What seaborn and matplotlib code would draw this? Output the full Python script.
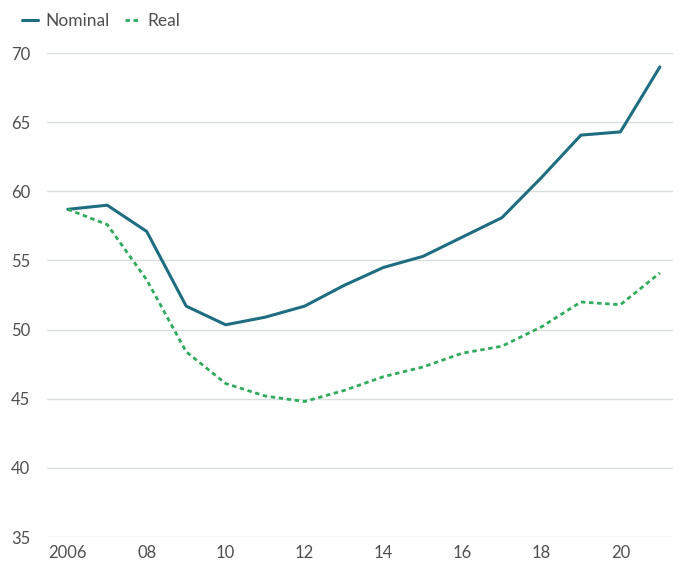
import pandas as pd
import numpy as np
import matplotlib.pyplot as plt
import seaborn as sns

years = list(range(2006, 2022))
nominal = [58.7, 59.0, 57.1, 51.7, 50.35, 50.9, 51.7, 53.2, 54.5, 55.3, 56.7, 58.1, 61.0, 64.07, 64.3, 69.0]
real = [58.7, 57.6, 53.6, 48.4, 46.1, 45.2, 44.8, 45.6, 46.6, 47.3, 48.3, 48.8, 50.2, 52.0, 51.8, 54.1]
xtick_years = [2006, 2008, 2010, 2012, 2014, 2016, 2018, 2020]
xtick_labels = ["2006", "08", "10", "12", "14", "16", "18", "20"]
ytick_vals = [35, 40, 45, 50, 55, 60, 65, 70]

df = pd.DataFrame({"year": years, "Nominal": nominal, "Real": real})

sns.set_style("white")
plt.rcParams['font.family'] = ['Lato', 'DejaVu Sans']

fig = plt.figure(figsize=(6.79, 5.71), dpi=100)
ax = fig.add_axes([0.069, 0.0595, 0.922, 0.8475])

sns.lineplot(data=df, x="year", y="Nominal", ax=ax, color="#1f6d80", lw=2.2, label="Nominal")
sns.lineplot(data=df, x="year", y="Real", ax=ax, color="#2fab5b", lw=2.0, label="Real",
             dashes=False)
ax.lines[1].set_dashes([1.6, 1.3])

ax.set_xlim(2005.47, 2021.33)
ax.set_ylim(35, 70)
ax.set_xticks(xtick_years)
ax.set_xticklabels(xtick_labels)
ax.set_yticks(ytick_vals)
ax.set_xlabel("")
ax.set_ylabel("")
ax.grid(axis="y", color="#d9dedf", lw=1)
ax.set_axisbelow(True)
for s in ax.spines.values():
    s.set_visible(False)
ax.tick_params(axis="both", length=0, labelsize=12, colors="#4f4f4f")
ax.tick_params(axis="y", pad=12)
ax.tick_params(axis="x", pad=6)

ax.get_legend().remove()
h, l = ax.get_legend_handles_labels()
fig.legend(h, l, loc="upper left", bbox_to_anchor=(0.01, 1.005), ncol=2, frameon=False,
           fontsize=12.5, handlelength=0.9, handletextpad=0.4, columnspacing=0.9,
           labelcolor="#4f4f4f")

fig.savefig("out.png", dpi=100)
